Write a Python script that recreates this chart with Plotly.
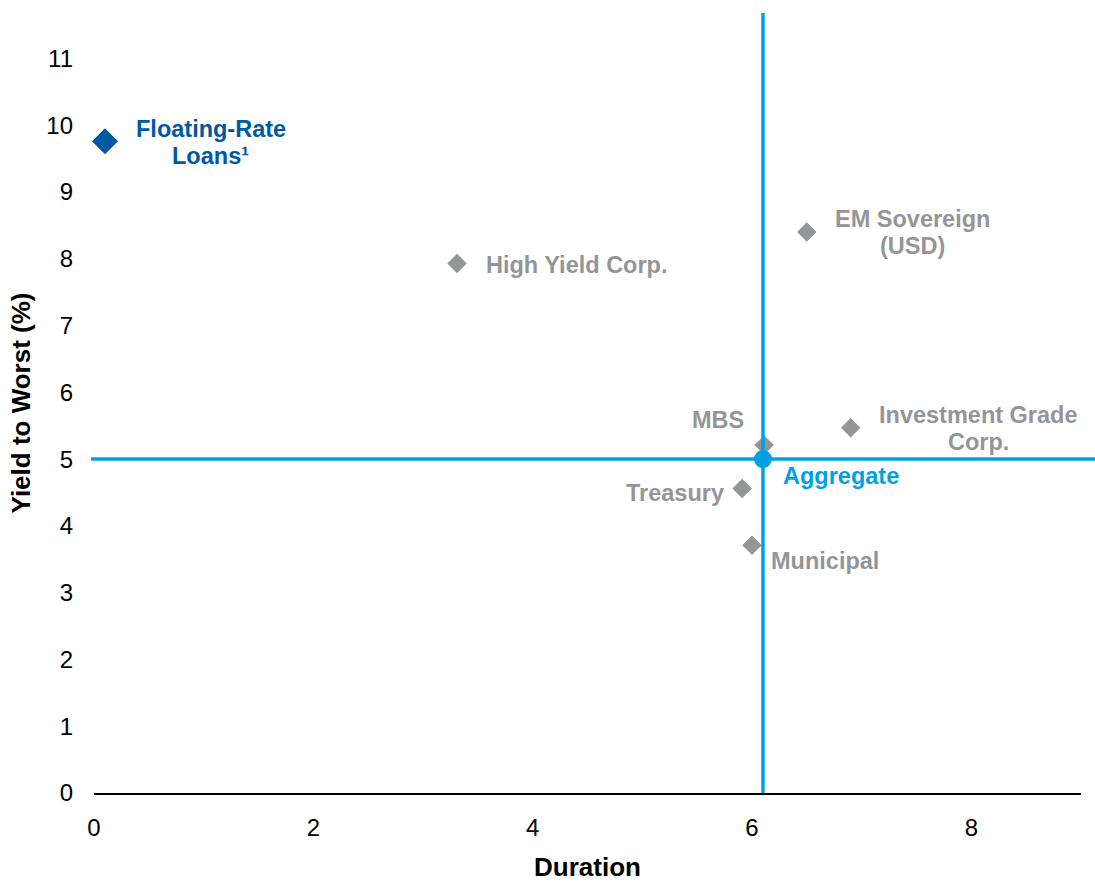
import plotly.graph_objects as go

# ---- data ----
sectors = ["Floating-Rate Loans¹", "High Yield Corp.", "EM Sovereign (USD)",
           "Investment Grade Corp.", "MBS", "Treasury", "Municipal"]
duration = [0.10, 3.31, 6.50, 6.90, 6.11, 5.91, 6.00]
yield_to_worst = [9.76, 7.93, 8.40, 5.47, 5.21, 4.56, 3.71]

aggregate_name = "Aggregate"
aggregate_duration = 6.10
aggregate_yield = 5.00

x_ticks = [0, 2, 4, 6, 8]
y_ticks = list(range(0, 12))

# ---- styles ----
GRAY = "#939598"
DARK_BLUE = "#0058A3"
LIGHT_BLUE = "#00A1E0"
FONT = "Liberation Sans, Arial, sans-serif"

label_lines = {
    "Floating-Rate Loans¹": ["Floating-Rate", "Loans¹"],
    "EM Sovereign (USD)": ["EM Sovereign", "(USD)"],
    "Investment Grade Corp.": ["Investment Grade", "Corp."],
}
# (xanchor, xshift px, yshift px)
label_place = {
    "Floating-Rate Loans¹": ("center", 106, -1),
    "High Yield Corp.": ("left", 27, -2),
    "EM Sovereign (USD)": ("center", 106, 0),
    "Investment Grade Corp.": ("center", 128, -1),
    "MBS": ("right", -18, 25),
    "Treasury": ("right", -16, -5),
    "Municipal": ("left", 17, -16),
}
LINE_GAP = 27

fig = go.Figure()

colors = [DARK_BLUE if i == 0 else GRAY for i in range(len(sectors))]
sizes = [20 if i == 0 else 15 for i in range(len(sectors))]

fig.add_trace(go.Scatter(
    x=duration, y=yield_to_worst, mode="markers",
    marker=dict(symbol="diamond", color=colors, size=sizes, opacity=1, line=dict(width=0)),
    hovertext=sectors, showlegend=False, cliponaxis=False,
))

fig.add_trace(go.Scatter(
    x=[aggregate_duration], y=[aggregate_yield], mode="markers",
    marker=dict(symbol="circle", color=LIGHT_BLUE, size=18, opacity=1, line=dict(width=0)),
    hovertext=[aggregate_name], showlegend=False, cliponaxis=False,
))

annotations = []
for i, name in enumerate(sectors):
    xa, xs, ys = label_place[name]
    lines = label_lines.get(name, [name])
    n = len(lines)
    for k, line in enumerate(lines):
        offset = ((n - 1) / 2 - k) * LINE_GAP
        annotations.append(dict(
            x=duration[i], y=yield_to_worst[i], xref="x", yref="y",
            text="<b>" + line + "</b>", showarrow=False,
            xanchor=xa, yanchor="middle", align="center",
            xshift=xs, yshift=ys + offset,
            font=dict(family=FONT, size=23.5, color=colors[i]),
        ))
annotations.append(dict(
    x=aggregate_duration, y=aggregate_yield, xref="x", yref="y",
    text="<b>" + aggregate_name + "</b>", showarrow=False, xanchor="left", yanchor="middle",
    xshift=18, yshift=-17,
    font=dict(family=FONT, size=23.5, color=LIGHT_BLUE),
))

shapes = [
    dict(type="line", xref="x", yref="paper", x0=aggregate_duration, x1=aggregate_duration,
         y0=0, y1=1, line=dict(color=LIGHT_BLUE, width=3.5)),
    dict(type="line", xref="paper", yref="y", x0=-0.003, x1=1.03,
         y0=aggregate_yield, y1=aggregate_yield, line=dict(color=LIGHT_BLUE, width=3.5)),
]

fig.update_layout(
    width=1095, height=882,
    margin=dict(l=94, r=14, t=13, b=89, autoexpand=False),
    paper_bgcolor="white", plot_bgcolor="white",
    font=dict(family=FONT, size=24, color="black"),
    annotations=annotations, shapes=shapes,
    showlegend=False,
)
fig.update_xaxes(
    range=[0, 9], tickvals=x_ticks, showgrid=False, zeroline=False,
    showline=True, linecolor="black", linewidth=1.5,
    ticks="", ticklabelstandoff=12, automargin=False,
    tickfont=dict(family=FONT, size=24, color="black"),
    title=dict(text="<b>Duration</b>", font=dict(family=FONT, size=26, color="black"), standoff=28),
)
fig.update_yaxes(
    range=[0, 11.68], tickvals=y_ticks, showgrid=False, zeroline=False,
    showline=False, ticks="", ticklabelstandoff=20, automargin=False,
    tickfont=dict(family=FONT, size=24, color="black"),
    title=dict(text="<b>Yield to Worst (%)</b>", font=dict(family=FONT, size=26, color="black"), standoff=8),
)

fig.write_html(
    "out.html",
    config={"displayModeBar": False},
    post_script="document.body.style.margin='0';document.body.style.overflow='hidden';",
)
